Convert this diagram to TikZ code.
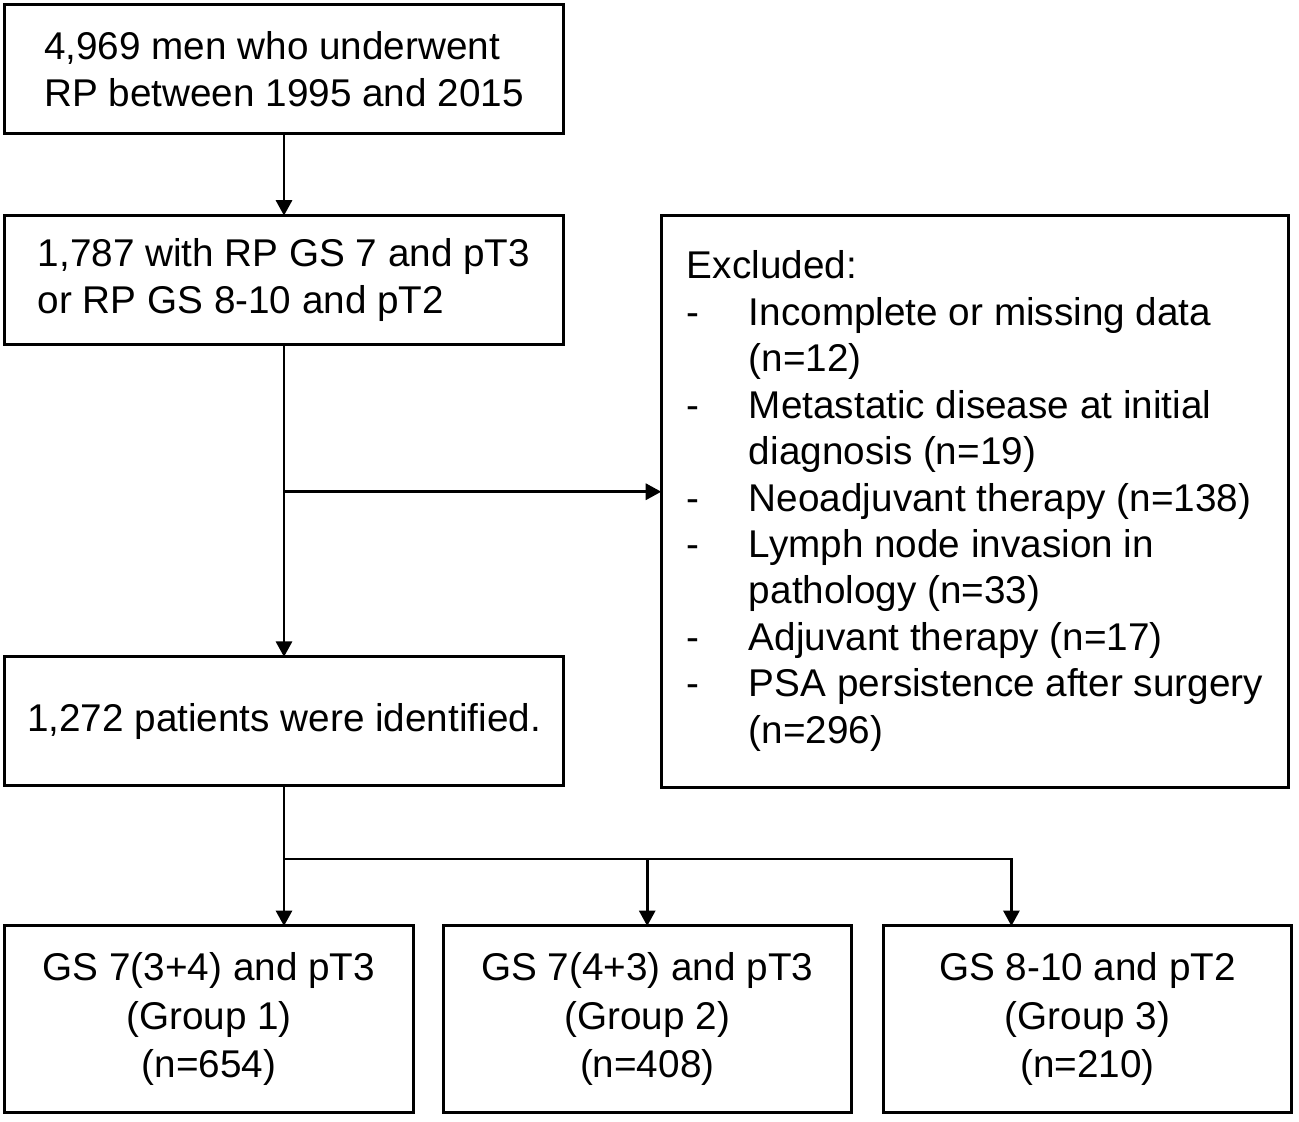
\documentclass[tikz,border=0pt]{standalone}
\usepackage{fontspec}
\setmainfont{Liberation Sans}
\usetikzlibrary{positioning, arrows.meta}

\tikzset{
  box/.style={draw, line width=0.85pt, inner sep=0pt, outer sep=0pt, align=left},
  mainbox/.style={box, minimum width=5.58cm, minimum height=1.29cm},
  grp/.style={box, align=center, minimum width=4.08cm, minimum height=1.86cm,
    font=\fontsize{11pt}{13.7pt}\selectfont},
}

\begin{document}
\begin{tikzpicture}[x=0.01cm, y=-0.01cm, ->, >={Triangle[length=4.4pt,width=4.6pt]},
    line width=0.75pt, font=\fontsize{11pt}{13.2pt}\selectfont]
  \useasboundingbox (0,0) rectangle (1299,1122);

  \node[mainbox] (all) at (284,69) {4,969 men who underwent\\RP between 1995 and 2015};
  \node[mainbox] (elig) [below=0.82cm of all] {1,787 with RP GS 7 and pT3\\or RP GS 8-10 and pT2};
  \node[mainbox] (incl) [below=3.12cm of elig] {1,272 patients were identified.};

  % exclusion box
  \node[box, minimum width=6.27cm, minimum height=5.72cm] (excl)
    [right=0.98cm of elig.north east, anchor=north west] {%
    \begin{tabular}{@{}p{0.62cm}@{}l@{}}
      \multicolumn{2}{@{}l@{}}{Excluded:}\\
      - & Incomplete or missing data\\
        & (n=12)\\
      - & Metastatic disease at initial\\
        & diagnosis (n=19)\\
      - & Neoadjuvant therapy (n=138)\\
      - & Lymph node invasion in\\
        & pathology (n=33)\\
      - & Adjuvant therapy (n=17)\\
      - & PSA persistence after surgery\\
        & (n=296)
    \end{tabular}};

  % groups
  \node[grp] (g1) [below=1.40cm of incl.south west, anchor=north west] {GS 7(3+4) and pT3\\(Group 1)\\(n=654)};
  \node[grp] (g2) [right=0.30cm of g1] {GS 7(4+3) and pT3\\(Group 2)\\(n=408)};
  \node[grp] (g3) [right=0.32cm of g2] {GS 8-10 and pT2\\(Group 3)\\(n=210)};

  \coordinate[below=1.47cm of elig.south] (split);
  \coordinate[below=0.73cm of incl.south] (fork);
  \coordinate[left=0.76cm of g3.north] (g3in);

  \draw (all) -- (elig);
  \draw (elig) -- (incl);
  \draw (split) -- (split -| excl.west);
  \draw (incl.south) -- (incl.south |- g1.north);
  \draw (fork) -| (g3in);
  \draw (fork -| g2.north) -- (g2.north);
\end{tikzpicture}
\end{document}
